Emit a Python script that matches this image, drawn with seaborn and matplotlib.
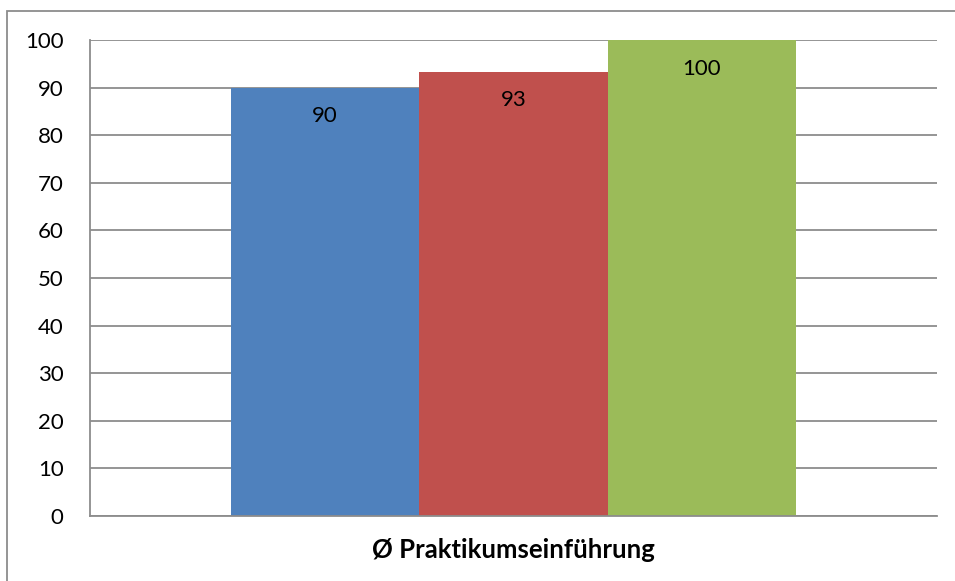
import matplotlib
matplotlib.use("Agg")
import matplotlib.pyplot as plt
import pandas as pd
import seaborn as sns
from matplotlib.patches import Rectangle

category = ["Ø Praktikumseinführung"]
series = ["Reihe 1", "Reihe 2", "Reihe 3"]
values = [90, 93.3, 100]
colors = ["#4f81bd", "#c0504d", "#9bbb59"]
yticks = list(range(0, 101, 10))

df = pd.DataFrame({"cat": category * len(series), "series": series, "value": values})

sns.set_theme(style="white")
plt.rcParams["font.family"] = ["Lato", "DejaVu Sans"]

fig = plt.figure(figsize=(9.55, 5.81), dpi=100)
ax = fig.add_axes([90 / 955, 1 - 516 / 581, (937 - 90) / 955, (516 - 40) / 581])

sns.barplot(data=df, x="cat", y="value", hue="series", palette=colors,
            width=0.667, gap=0, saturation=1, legend=False, ax=ax)

for patch, v in zip(ax.patches, values):
    patch.set_linewidth(0)
    ax.text(patch.get_x() + patch.get_width() / 2, v - 6, f"{v:.0f}",
            ha="center", va="center", fontsize=16, color="black")

ax.set_ylim(0, 100)
ax.set_xlim(-0.5, 0.5)
ax.set_yticks(yticks)
ax.set_yticklabels([str(t) for t in yticks], fontsize=16, color="black")
ax.yaxis.grid(True, color="#8c8c8c", linewidth=1.3)
ax.set_axisbelow(True)
ax.tick_params(axis="y", length=0, pad=19)
ax.tick_params(axis="x", length=0, pad=16)
for lbl in ax.get_xticklabels():
    lbl.set_fontweight("bold")
    lbl.set_fontsize(18.5)
    lbl.set_color("black")
ax.set_xlabel("")
ax.set_ylabel("")
for side in ["top", "right"]:
    ax.spines[side].set_visible(False)
for side in ["left", "bottom"]:
    ax.spines[side].set_color("#8c8c8c")
    ax.spines[side].set_linewidth(1.3)

# outer chart border (only left/top visible in the cropped original)
fig.patches.append(Rectangle((7 / 955, -0.05), 1.0, 1 - 11 / 581 + 0.05,
                             transform=fig.transFigure, fill=False,
                             edgecolor="#8c8c8c", linewidth=1.3))

fig.savefig("out.png", dpi=100)
